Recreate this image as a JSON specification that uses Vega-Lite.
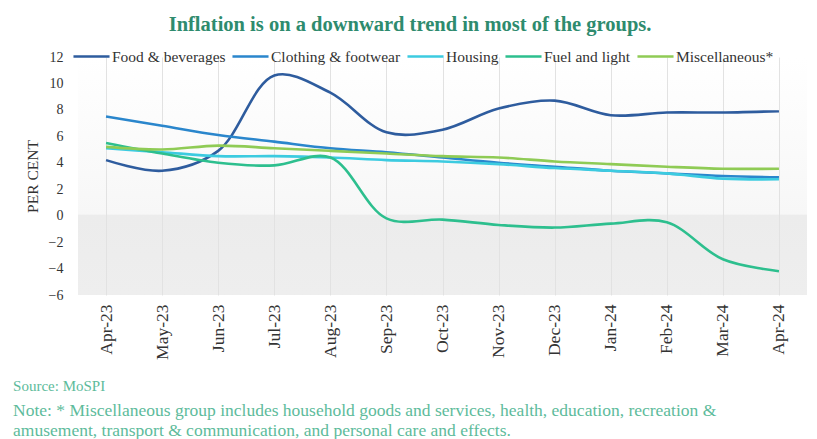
{
  "$schema": "https://vega.github.io/schema/vega-lite/v6.json",
  "background": "white",
  "padding": {"left": 13, "top": 14, "right": 5, "bottom": 2},
  "title": {
    "text": "Inflation is on a downward trend in most of the groups.",
    "font": "Liberation Serif",
    "fontSize": 20.5,
    "fontWeight": "bold",
    "color": "#2E8B6E",
    "anchor": "middle",
    "offset": 2
  },
  "config": {
    "font": "Liberation Serif",
    "view": {"stroke": null}
  },
  "vconcat": [
    {
      "width": 729,
      "height": 238,
      "view": {
        "stroke": null,
        "fill": {
          "gradient": "linear",
          "x1": 0, "y1": 0, "x2": 0, "y2": 1,
          "stops": [
            {"offset": 0, "color": "#ffffff"},
            {"offset": 0.66, "color": "#f7f7f7"},
            {"offset": 0.665, "color": "#ececec"},
            {"offset": 1, "color": "#eeeeee"}
          ]
        }
      },
      "title": {
        "text": "Source: MoSPI",
        "subtitle": [
          "Note: * Miscellaneous group includes household goods and services, health, education, recreation &",
          "amusement, transport & communication, and personal care and effects."
        ],
        "orient": "bottom",
        "anchor": "start",
        "frame": "bounds",
        "dx": -12,
        "font": "Liberation Serif",
        "fontSize": 15,
        "fontWeight": "normal",
        "color": "#5DBB9B",
        "subtitleFont": "Liberation Serif",
        "subtitleFontSize": 17.5,
        "subtitleColor": "#5DBB9B",
        "subtitlePadding": 8,
        "subtitleLineHeight": 20,
        "offset": 20
      },
      "data": {
        "values": [
          {"month": "Apr-23", "group": "Food & beverages", "value": 4.2},
          {"month": "May-23", "group": "Food & beverages", "value": 3.4},
          {"month": "Jun-23", "group": "Food & beverages", "value": 4.9},
          {"month": "Jul-23", "group": "Food & beverages", "value": 10.6},
          {"month": "Aug-23", "group": "Food & beverages", "value": 9.3},
          {"month": "Sep-23", "group": "Food & beverages", "value": 6.3},
          {"month": "Oct-23", "group": "Food & beverages", "value": 6.5},
          {"month": "Nov-23", "group": "Food & beverages", "value": 8.1},
          {"month": "Dec-23", "group": "Food & beverages", "value": 8.7},
          {"month": "Jan-24", "group": "Food & beverages", "value": 7.6},
          {"month": "Feb-24", "group": "Food & beverages", "value": 7.8},
          {"month": "Mar-24", "group": "Food & beverages", "value": 7.8},
          {"month": "Apr-24", "group": "Food & beverages", "value": 7.9},
          {"month": "Apr-23", "group": "Clothing & footwear", "value": 7.5},
          {"month": "May-23", "group": "Clothing & footwear", "value": 6.8},
          {"month": "Jun-23", "group": "Clothing & footwear", "value": 6.1},
          {"month": "Jul-23", "group": "Clothing & footwear", "value": 5.6},
          {"month": "Aug-23", "group": "Clothing & footwear", "value": 5.1},
          {"month": "Sep-23", "group": "Clothing & footwear", "value": 4.8},
          {"month": "Oct-23", "group": "Clothing & footwear", "value": 4.4},
          {"month": "Nov-23", "group": "Clothing & footwear", "value": 4.0},
          {"month": "Dec-23", "group": "Clothing & footwear", "value": 3.7},
          {"month": "Jan-24", "group": "Clothing & footwear", "value": 3.4},
          {"month": "Feb-24", "group": "Clothing & footwear", "value": 3.2},
          {"month": "Mar-24", "group": "Clothing & footwear", "value": 3.0},
          {"month": "Apr-24", "group": "Clothing & footwear", "value": 2.9},
          {"month": "Apr-23", "group": "Housing", "value": 5.1},
          {"month": "May-23", "group": "Housing", "value": 4.8},
          {"month": "Jun-23", "group": "Housing", "value": 4.5},
          {"month": "Jul-23", "group": "Housing", "value": 4.5},
          {"month": "Aug-23", "group": "Housing", "value": 4.4},
          {"month": "Sep-23", "group": "Housing", "value": 4.2},
          {"month": "Oct-23", "group": "Housing", "value": 4.1},
          {"month": "Nov-23", "group": "Housing", "value": 3.9},
          {"month": "Dec-23", "group": "Housing", "value": 3.6},
          {"month": "Jan-24", "group": "Housing", "value": 3.4},
          {"month": "Feb-24", "group": "Housing", "value": 3.2},
          {"month": "Mar-24", "group": "Housing", "value": 2.8},
          {"month": "Apr-24", "group": "Housing", "value": 2.75},
          {"month": "Apr-23", "group": "Fuel and light", "value": 5.5},
          {"month": "May-23", "group": "Fuel and light", "value": 4.7},
          {"month": "Jun-23", "group": "Fuel and light", "value": 4.0},
          {"month": "Jul-23", "group": "Fuel and light", "value": 3.8},
          {"month": "Aug-23", "group": "Fuel and light", "value": 4.4},
          {"month": "Sep-23", "group": "Fuel and light", "value": -0.2},
          {"month": "Oct-23", "group": "Fuel and light", "value": -0.3},
          {"month": "Nov-23", "group": "Fuel and light", "value": -0.7},
          {"month": "Dec-23", "group": "Fuel and light", "value": -0.9},
          {"month": "Jan-24", "group": "Fuel and light", "value": -0.6},
          {"month": "Feb-24", "group": "Fuel and light", "value": -0.5},
          {"month": "Mar-24", "group": "Fuel and light", "value": -3.3},
          {"month": "Apr-24", "group": "Fuel and light", "value": -4.2},
          {"month": "Apr-23", "group": "Miscellaneous*", "value": 5.2},
          {"month": "May-23", "group": "Miscellaneous*", "value": 5.0},
          {"month": "Jun-23", "group": "Miscellaneous*", "value": 5.3},
          {"month": "Jul-23", "group": "Miscellaneous*", "value": 5.1},
          {"month": "Aug-23", "group": "Miscellaneous*", "value": 4.9},
          {"month": "Sep-23", "group": "Miscellaneous*", "value": 4.7},
          {"month": "Oct-23", "group": "Miscellaneous*", "value": 4.5},
          {"month": "Nov-23", "group": "Miscellaneous*", "value": 4.4},
          {"month": "Dec-23", "group": "Miscellaneous*", "value": 4.1},
          {"month": "Jan-24", "group": "Miscellaneous*", "value": 3.9},
          {"month": "Feb-24", "group": "Miscellaneous*", "value": 3.7},
          {"month": "Mar-24", "group": "Miscellaneous*", "value": 3.55},
          {"month": "Apr-24", "group": "Miscellaneous*", "value": 3.55}
        ]
      },
      "mark": {"type": "line", "interpolate": "catmull-rom", "strokeWidth": 2.6},
      "encoding": {
        "x": {
          "field": "month",
          "type": "ordinal",
          "sort": null,
          "scale": {"type": "point", "padding": 0.5},
          "axis": {
            "title": null,
            "labelAngle": -90,
            "labelFont": "Liberation Serif",
            "labelFontSize": 17.5,
            "labelColor": "#333333",
            "labelPadding": 9,
            "domain": false,
            "ticks": false,
            "grid": true,
            "gridColor": "#e2e2e2",
            "gridWidth": 1
          }
        },
        "y": {
          "field": "value",
          "type": "quantitative",
          "scale": {"domain": [-6, 12], "nice": false},
          "axis": {
            "title": "PER CENT",
            "titleFont": "Liberation Serif",
            "titleFontSize": 15.5,
            "titleFontWeight": "normal",
            "titleColor": "#333333",
            "titlePadding": 8,
            "values": [-6, -4, -2, 0, 2, 4, 6, 8, 10, 12],
            "labelFont": "Liberation Serif",
            "labelFontSize": 14,
            "labelColor": "#333333",
            "labelPadding": 15,
            "domain": false,
            "ticks": false,
            "grid": false
          }
        },
        "color": {
          "field": "group",
          "type": "nominal",
          "sort": ["Food & beverages", "Clothing & footwear", "Housing", "Fuel and light", "Miscellaneous*"],
          "scale": {
            "domain": ["Food & beverages", "Clothing & footwear", "Housing", "Fuel and light", "Miscellaneous*"],
            "range": ["#2E5C9E", "#2A86CC", "#3CCBE0", "#2DBF8E", "#8FCB55"]
          },
          "legend": {
            "title": null,
            "orient": "none",
            "legendX": -6,
            "legendY": -20,
            "direction": "horizontal",
            "columns": 5,
            "symbolType": "stroke",
            "symbolSize": 1300,
            "symbolStrokeWidth": 2.6,
            "labelFont": "Liberation Serif",
            "labelFontSize": 15.5,
            "labelColor": "#333333",
            "labelOffset": 1,
            "columnPadding": 1
          }
        }
      }
    }
  ]
}
